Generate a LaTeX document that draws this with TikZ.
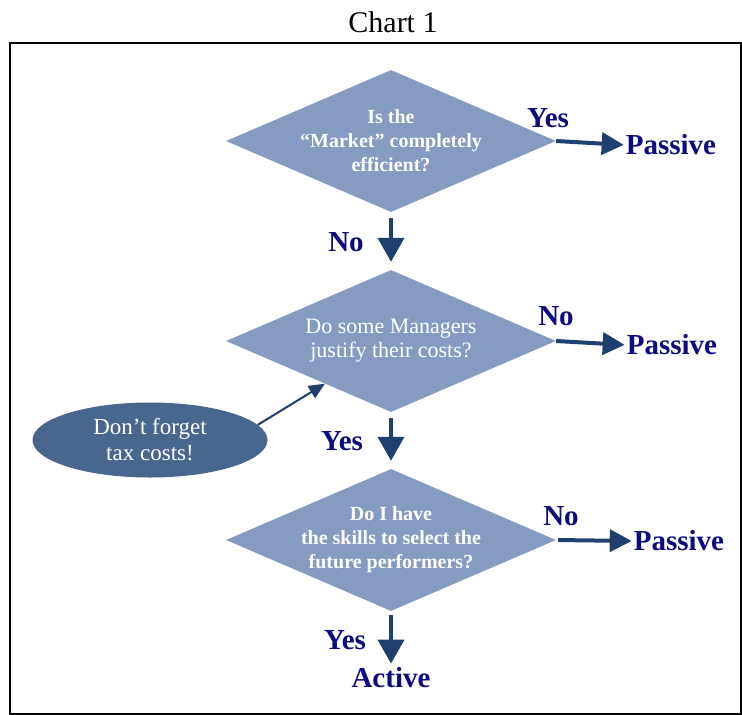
\documentclass[tikz,border=0pt]{standalone}
\usepackage{fontspec}
\setmainfont{Liberation Serif}
\usetikzlibrary{shapes.geometric,arrows.meta,calc}
\definecolor{qfill}{RGB}{133,155,193}
\definecolor{tfill}{RGB}{73,102,143}
\definecolor{arrowc}{RGB}{31,63,110}
\definecolor{ansc}{RGB}{12,12,128}
\tikzset{
  question/.style={draw=none, fill=qfill, diamond, inner sep=0pt,
    minimum width=330pt, minimum height=142pt},
  qtext/.style={text=white, align=center, font=\fontsize{20}{24}\selectfont\bfseries},
  answer/.style={text=ansc, inner sep=0pt, font=\fontsize{29}{30}\selectfont\bfseries},
  flow/.style={draw=arrowc, line width=4pt, -{Triangle[length=24pt,width=26pt]}},
  side/.style={draw=arrowc, line width=4pt, -{Triangle[length=22pt,width=22pt]}},
}
\begin{document}
\begin{tikzpicture}[x=1pt,y=-1pt]
\useasboundingbox (0,0) rectangle (742,715);
\node[font=\fontsize{30}{32}\selectfont] (title) at (393,22) {Chart 1};
\draw[line width=2pt] (10,43) rectangle (741,714);

\node[question, label={[qtext]center:{Is the\\``Market'' completely\\efficient?}}] (q1) at (391,141) {};
\node[question, label={[qtext, font=\fontsize{22}{24}\selectfont]center:{Do some Managers\\justify their costs?}}] (q2) at (391,341) {};
\node[question, label={[qtext]center:{Do I have\\the skills to select the\\future performers?}}] (q3) at (391,540) {};

\node[ellipse, fill=tfill, minimum width=235pt, minimum height=75pt, text=white, align=center,
  font=\fontsize{23}{26}\selectfont] (tax) at (150,440) {Don't forget\\tax costs!};

\node[answer] (p1) at (671,145) {Passive};
\node[answer] (p2) at (672,345) {Passive};
\node[answer] (p3) at (679,541) {Passive};
\node[answer] (act) at (391,678) {Active};

\node[answer] (y1) at (548,118) {Yes};
\node[answer] (n1) at (346,242) {No};
\node[answer] (n2) at (556,316) {No};
\node[answer] (y2) at (342,441) {Yes};
\node[answer] (n3) at (561,516) {No};
\node[answer] (y3) at (345,640) {Yes};

\draw[flow, shorten <=6pt, shorten >=8pt] (q1.south) -- (q2.north);
\draw[flow, shorten <=6pt, shorten >=8pt] (q2.south) -- (q3.north);
\draw[flow, shorten <=4pt, shorten >=4pt] (q3.south) -- (act.north);

\draw[side, shorten >=2pt] (q1.east) -- (p1.west);
\draw[side, shorten >=2pt] (q2.east) -- (p2.west);
\draw[side, shorten <=2pt, shorten >=2pt] (q3.east) -- (p3.west);

\coordinate (q2in) at ($(q2.west)!0.6!(q2.south)$);
\draw[draw=arrowc, line width=2pt, -{Triangle[length=16pt,width=14pt]}] (tax.8) -- (q2in);
\end{tikzpicture}
\end{document}
